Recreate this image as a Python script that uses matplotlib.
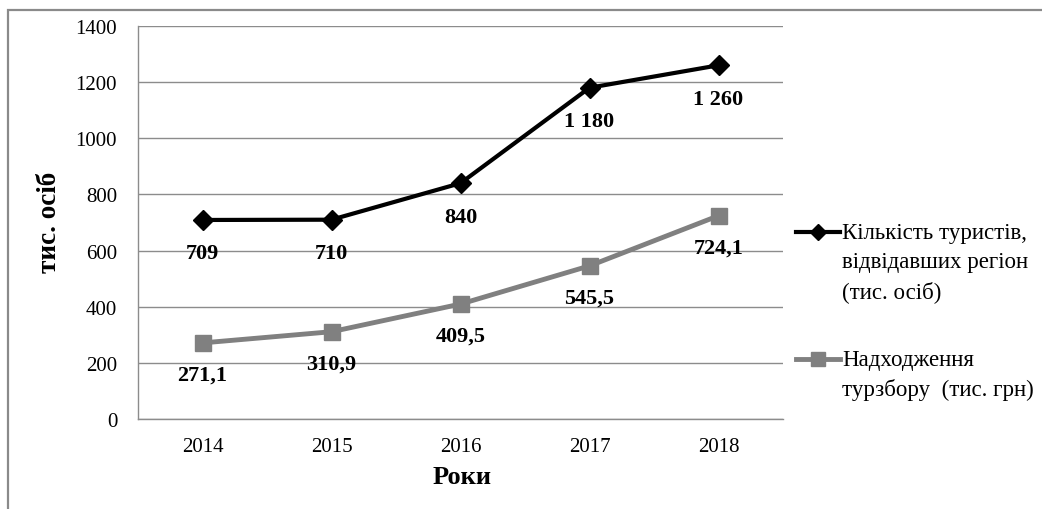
import matplotlib
matplotlib.use("Agg")
import matplotlib.pyplot as plt
from matplotlib.lines import Line2D
from matplotlib.patches import Rectangle

years = ["2014", "2015", "2016", "2017", "2018"]
tourists = [709, 710, 840, 1180, 1260]
tourists_labels = ["709", "710", "840", "1 180", "1 260"]
tax = [271.1, 310.9, 409.5, 545.5, 724.1]
tax_labels = ["271,1", "310,9", "409,5", "545,5", "724,1"]
legend_labels = ["Кількість туристів,\nвідвідавших регіон\n(тис. осіб)",
                 "Надходження\nтурзбору  (тис. грн)"]
yticks = [0, 200, 400, 600, 800, 1000, 1200, 1400]

W, H = 1042, 510
plt.rcParams['font.family'] = ['Liberation Serif', 'DejaVu Serif']
fig = plt.figure(figsize=(W / 100, H / 100), dpi=100)

def fx(x):
    return x / W

def fy(y):
    return 1 - y / H

# outer frame (top & left visible)
fig.patches.append(Rectangle((fx(8), -0.1), 1.2, fy(11) + 0.1, transform=fig.transFigure,
                             fill=False, edgecolor='#8a8a8a', linewidth=1.6, zorder=0))

ax = fig.add_axes([fx(138), fy(420), fx(783) - fx(138), fy(27) - fy(420)])
x = list(range(len(years)))
black = '#000000'
gray = '#808080'

ax.plot(x, tax, color=gray, linewidth=3.5, marker='s', markersize=12,
        markerfacecolor=gray, markeredgecolor=gray, zorder=3, clip_on=False)
ax.plot(x, tourists, color=black, linewidth=3, marker='D', markersize=10,
        markerfacecolor=black, markeredgecolor=black, zorder=4, clip_on=False)

for xi, v, t in zip(x, tourists, tourists_labels):
    ax.annotate(t, (xi, v), xytext=(0, -24), textcoords='offset points',
                ha='center', va='center', fontsize=16, fontweight='bold')
for xi, v, t in zip(x, tax, tax_labels):
    ax.annotate(t, (xi, v), xytext=(0, -23), textcoords='offset points',
                ha='center', va='center', fontsize=16, fontweight='bold')

ax.set_xlim(-0.5, len(years) - 0.5)
ax.set_ylim(0, 1400)
ax.set_yticks(yticks)
ax.set_yticklabels([str(v) for v in yticks])
ax.set_xticks(x)
ax.set_xticklabels(years)
ax.tick_params(axis='y', length=0, pad=15, labelsize=15)
ax.tick_params(axis='x', length=0, pad=13, labelsize=15)
ax.grid(axis='y', color='#8c8c8c', linewidth=1)
ax.set_axisbelow(True)
for s in ['top', 'right']:
    ax.spines[s].set_visible(False)
for s in ['left', 'bottom']:
    ax.spines[s].set_color('#8c8c8c')
    ax.spines[s].set_linewidth(1)

fig.text(fx(50), fy(222), "тис. осіб", rotation=90, ha='center', va='center',
         fontsize=19.5, fontweight='bold')
fig.text(fx(462), fy(478), "Роки", ha='center', va='center', fontsize=19, fontweight='bold')

# legend (manual, handle aligned to first text line)
entries = [(233, black, 'D', 10, 3.0), (360, gray, 's', 12, 3.5)]
for (ypix, col, mk, ms, lw), lab in zip(entries, legend_labels):
    fig.add_artist(Line2D([fx(796), fx(840)], [fy(ypix), fy(ypix)], color=col,
                          linewidth=lw, transform=fig.transFigure))
    fig.add_artist(Line2D([fx(818)], [fy(ypix)], color=col, marker=mk,
                          markersize=ms * 0.8, linestyle='none', transform=fig.transFigure))
    fig.text(fx(842), fy(ypix) + 10 / H, lab, ha='left', va='top', fontsize=16.5,
             linespacing=1.48)

fig.savefig("out.png", dpi=100)
